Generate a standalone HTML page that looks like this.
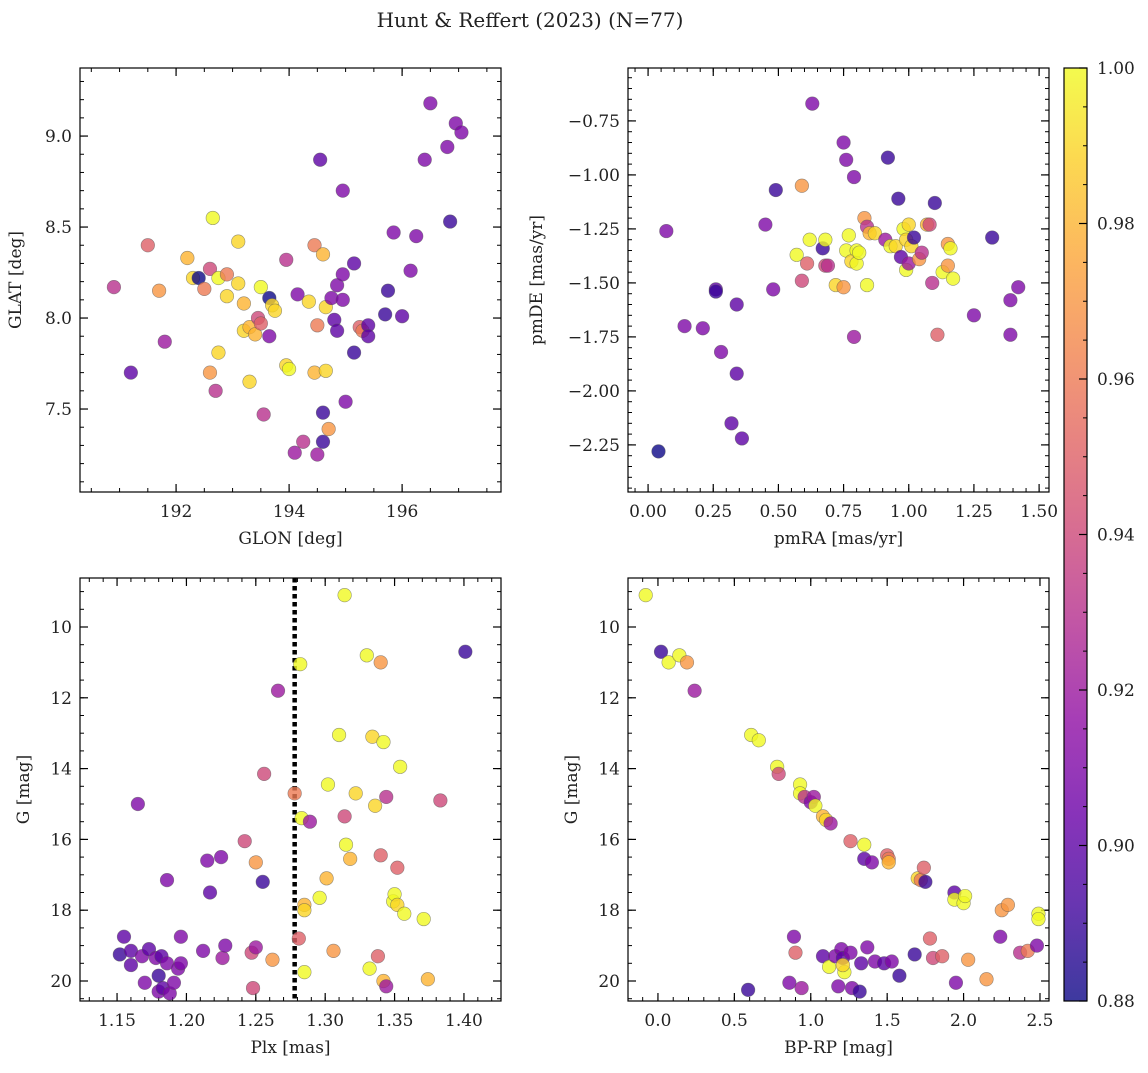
<!DOCTYPE html>
<html><head><meta charset="utf-8">
<style>
html,body{margin:0;padding:0;background:#fff;}
svg text{font-family:"DejaVu Serif","Liberation Serif",serif;fill:#222;}
</style></head>
<body>
<svg id="fig" width="1148" height="1068" xmlns="http://www.w3.org/2000/svg">
<text x="530" y="27" text-anchor="middle" font-size="20">Hunt &amp; Reffert (2023) (N=77)</text>
</svg>
<script>
// ---- data ----
const glon=[190.9,191.2,191.5,191.7,191.8,192.2,192.3,192.4,192.5,192.6,192.6,192.65,192.7,192.75,192.75,192.9,192.9,193.1,193.1,193.2,193.2,193.3,193.3,193.4,193.45,193.5,193.5,193.55,193.65,193.65,193.7,193.75,193.95,193.95,194.0,194.1,194.15,194.25,194.35,194.45,194.45,194.5,194.5,194.55,194.6,194.6,194.6,194.65,194.65,194.7,194.75,194.8,194.85,194.85,194.95,194.95,194.95,195.0,195.15,195.15,195.25,195.3,195.4,195.4,195.7,195.75,195.85,196.0,196.15,196.25,196.4,196.5,196.8,196.85,196.95,197.05];
const glat=[8.17,7.70,8.40,8.15,7.87,8.33,8.22,8.22,8.16,8.27,7.70,8.55,7.60,8.22,7.81,8.24,8.12,8.42,8.19,8.08,7.93,7.95,7.65,7.91,8.00,8.17,7.97,7.47,8.11,7.90,8.07,8.04,8.32,7.74,7.72,7.26,8.13,7.32,8.09,8.40,7.70,7.96,7.25,8.87,8.35,7.48,7.32,8.06,7.71,7.39,8.11,7.99,8.18,7.93,8.70,8.24,8.10,7.54,8.30,7.81,7.95,7.93,7.96,7.90,8.02,8.15,8.47,8.01,8.26,8.45,8.87,9.18,8.94,8.53,9.07,9.02];
const probA=[0.93,0.90,0.95,0.97,0.92,0.98,0.99,0.88,0.96,0.94,0.97,1.0,0.93,1.0,0.99,0.96,0.99,0.99,0.99,0.98,0.99,0.98,0.99,0.98,0.94,1.0,0.95,0.93,0.88,0.91,0.99,0.99,0.93,0.99,1.0,0.92,0.91,0.93,0.99,0.96,0.98,0.96,0.92,0.90,0.98,0.89,0.89,0.99,0.99,0.97,0.91,0.90,0.91,0.90,0.91,0.91,0.91,0.91,0.90,0.89,0.95,0.96,0.90,0.90,0.89,0.89,0.91,0.90,0.91,0.91,0.91,0.91,0.91,0.89,0.91,0.91];
const pmra=[0.04,0.07,0.14,0.21,0.26,0.26,0.28,0.32,0.34,0.34,0.36,0.45,0.48,0.49,0.57,0.59,0.59,0.61,0.62,0.63,0.67,0.68,0.68,0.69,0.72,0.75,0.75,0.76,0.76,0.77,0.78,0.79,0.79,0.80,0.80,0.81,0.83,0.84,0.84,0.85,0.87,0.91,0.92,0.93,0.95,0.96,0.97,0.98,0.99,0.99,1.00,1.00,1.01,1.02,1.04,1.05,1.07,1.08,1.09,1.10,1.11,1.13,1.15,1.15,1.16,1.17,1.25,1.32,1.39,1.39,1.42];
const pmde=[-2.28,-1.26,-1.70,-1.71,-1.53,-1.54,-1.82,-2.15,-1.60,-1.92,-2.22,-1.23,-1.53,-1.07,-1.37,-1.49,-1.05,-1.41,-1.30,-0.67,-1.34,-1.42,-1.30,-1.42,-1.51,-0.85,-1.52,-0.93,-1.35,-1.28,-1.40,-1.01,-1.75,-1.35,-1.41,-1.36,-1.20,-1.51,-1.24,-1.27,-1.27,-1.30,-0.92,-1.33,-1.33,-1.11,-1.38,-1.25,-1.30,-1.44,-1.23,-1.41,-1.33,-1.29,-1.39,-1.36,-1.23,-1.23,-1.50,-1.13,-1.74,-1.45,-1.42,-1.32,-1.34,-1.48,-1.65,-1.29,-1.58,-1.74,-1.52];
const probB=[0.88,0.91,0.91,0.91,0.90,0.89,0.91,0.90,0.90,0.90,0.90,0.91,0.91,0.89,1.0,0.94,0.97,0.95,1.0,0.91,0.89,0.94,1.0,0.93,0.99,0.91,0.97,0.91,1.0,1.0,0.99,0.91,0.92,1.0,1.0,1.0,0.97,1.0,0.93,0.98,0.99,0.92,0.89,1.0,0.99,0.89,0.90,1.0,0.99,1.0,0.99,0.92,0.99,0.89,0.97,0.93,0.98,0.94,0.93,0.89,0.95,1.0,0.97,0.97,1.0,1.0,0.91,0.89,0.91,0.91,0.91];
const plx=[1.152,1.155,1.160,1.160,1.165,1.168,1.170,1.173,1.178,1.182,1.180,1.180,1.183,1.186,1.186,1.188,1.191,1.194,1.196,1.196,1.212,1.215,1.217,1.225,1.226,1.228,1.242,1.247,1.248,1.250,1.250,1.255,1.256,1.262,1.266,1.278,1.281,1.282,1.283,1.285,1.285,1.285,1.289,1.296,1.301,1.302,1.306,1.310,1.314,1.314,1.315,1.318,1.322,1.330,1.332,1.334,1.336,1.338,1.340,1.340,1.342,1.342,1.344,1.344,1.349,1.350,1.352,1.352,1.354,1.357,1.371,1.374,1.383,1.401];
const gmagC=[19.25,18.75,19.15,19.55,15.0,19.30,20.05,19.1,19.35,19.3,19.85,20.3,20.2,17.15,19.5,20.35,20.05,19.65,18.75,19.5,19.15,16.6,17.5,16.5,19.35,19.0,16.05,19.2,20.2,16.65,19.05,17.2,14.15,19.4,11.8,14.7,18.8,11.05,15.4,17.85,18.0,19.75,15.5,17.65,17.1,14.45,19.15,13.05,9.1,15.35,16.15,16.55,14.7,10.8,19.65,13.1,15.05,19.3,11.0,16.45,20.0,13.25,14.8,20.15,17.75,17.55,16.8,17.85,13.95,18.1,18.25,19.95,14.9,10.7];
const probC=[0.89,0.90,0.90,0.90,0.91,0.91,0.91,0.90,0.91,0.90,0.89,0.91,0.90,0.91,0.91,0.91,0.91,0.91,0.91,0.91,0.91,0.91,0.90,0.91,0.92,0.91,0.94,0.94,0.94,0.97,0.92,0.89,0.94,0.97,0.92,0.96,0.95,1.0,1.0,0.98,0.99,1.0,0.92,1.0,0.98,1.0,0.97,1.0,1.0,0.94,1.0,0.98,0.99,1.0,1.0,0.99,0.99,0.95,0.97,0.95,0.98,1.0,0.93,0.92,1.0,1.0,0.95,0.99,1.0,1.0,1.0,0.98,0.94,0.89];
const bprp=[-0.08,0.02,0.07,0.14,0.19,0.24,0.61,0.66,0.78,0.79,0.93,0.93,0.96,1.00,1.02,1.03,1.08,1.10,1.13,1.26,1.35,1.35,1.40,1.50,1.51,1.51,1.70,1.72,1.74,1.75,1.94,1.94,2.00,2.01,2.25,2.29,2.49,2.49,0.89,0.90,0.86,0.94,0.59,1.08,1.12,1.16,1.18,1.20,1.21,1.22,1.21,1.26,1.27,1.32,1.33,1.37,1.42,1.48,1.53,1.58,1.68,1.78,1.80,1.86,1.95,2.03,2.15,2.24,2.37,2.42,2.48];
const gmagD=[9.1,10.7,11.0,10.8,11.0,11.8,13.05,13.2,13.95,14.15,14.45,14.7,14.8,14.95,14.8,15.05,15.35,15.45,15.55,16.05,16.15,16.55,16.65,16.45,16.55,16.65,17.1,17.15,16.8,17.2,17.5,17.7,17.8,17.6,18.0,17.85,18.1,18.25,18.75,19.2,20.05,20.2,20.25,19.3,19.6,19.3,20.15,19.1,19.35,19.75,19.55,19.2,20.2,20.3,19.5,19.05,19.45,19.5,19.45,19.85,19.25,18.8,19.35,19.3,20.05,19.4,19.95,18.75,19.2,19.15,19.0];
const probD=[1.0,0.89,1.0,1.0,0.97,0.92,1.0,1.0,1.0,0.94,1.0,1.0,0.93,0.91,0.92,1.0,0.98,0.99,0.92,0.95,1.0,0.90,0.91,0.95,0.96,0.98,0.99,0.96,0.95,0.89,0.90,1.0,1.0,1.0,0.97,0.97,1.0,1.0,0.91,0.95,0.91,0.92,0.89,0.90,1.0,0.91,0.91,0.91,0.90,1.0,0.99,0.91,0.91,0.89,0.90,0.91,0.91,0.90,0.91,0.89,0.89,0.95,0.94,0.95,0.91,0.97,0.97,0.91,0.93,0.96,0.91];
const cbTicks=[0.88,0.90,0.92,0.94,0.96,0.98,1.00];
const plxCut=1.278;

const NS="http://www.w3.org/2000/svg";
const svg=document.getElementById('fig');
function el(tag,attrs,parent){const e=document.createElementNS(NS,tag);for(const k in attrs)e.setAttribute(k,attrs[k]);(parent||svg).appendChild(e);return e;}
const stops=[[13,8,135],[65,4,157],[106,0,168],[143,13,164],[177,42,144],[204,71,120],[225,100,98],[242,132,75],[252,166,54],[252,206,37],[240,249,33]];
function plasma(t){t=Math.max(0,Math.min(1,t))*10;const i=Math.min(9,Math.floor(t)),f=t-i,a=stops[i],b=stops[i+1];return `rgb(${a.map((v,k)=>Math.round(v+(b[k]-v)*f)).join(',')})`;}
function pc(p){return plasma((p-0.88)/0.12);}
function fmt(v,d){const s=v.toFixed(d);return s.replace('-','\u2212');}
const FS=17;

function panel(cfg){
  const {x0,x1,y0,y1,xmin,xmax,ymin,ymax,inv,name}=cfg;
  const sx=v=>x0+(v-xmin)/(xmax-xmin)*(x1-x0);
  const sy=inv? v=>y0+(v-ymin)/(ymax-ymin)*(y1-y0) : v=>y1-(v-ymin)/(ymax-ymin)*(y1-y0);
  const g=el('g',{});
  
  
  const eps=1e-9;
  const mk=(min,max,step)=>{const a=[];for(let v=Math.ceil(min/step-eps)*step;v<=max+eps;v+=step)a.push(+v.toFixed(6));return a;};
  mk(xmin,xmax,cfg.xminor).forEach(v=>{const X=sx(v);el('line',{x1:X,x2:X,y1:y1,y2:y1-4,stroke:'#000','stroke-width':1},g);el('line',{x1:X,x2:X,y1:y0,y2:y0+4,stroke:'#000','stroke-width':1},g);});
  mk(ymin,ymax,cfg.yminor).forEach(v=>{const Y=sy(v);el('line',{x1:x0,x2:x0+4,y1:Y,y2:Y,stroke:'#000','stroke-width':1},g);el('line',{x1:x1,x2:x1-4,y1:Y,y2:Y,stroke:'#000','stroke-width':1},g);});
  mk(xmin,xmax,cfg.xmajor).forEach(v=>{const X=sx(v);el('line',{x1:X,x2:X,y1:y1,y2:y1-8,stroke:'#000','stroke-width':1.2},g);el('line',{x1:X,x2:X,y1:y0,y2:y0+8,stroke:'#000','stroke-width':1.2},g);
    const t=el('text',{x:X,y:y1+25,'text-anchor':'middle','font-size':FS},g);t.textContent=fmt(v,cfg.xd);
    
    });
  mk(ymin,ymax,cfg.ymajor).forEach(v=>{const Y=sy(v);el('line',{x1:x0,x2:x0+8,y1:Y,y2:Y,stroke:'#000','stroke-width':1.2},g);el('line',{x1:x1,x2:x1-8,y1:Y,y2:Y,stroke:'#000','stroke-width':1.2},g);
    const t=el('text',{x:x0-8,y:Y+6,'text-anchor':'end','font-size':FS},g);t.textContent=fmt(v,cfg.yd);
    
    });
  if(cfg.vline!==undefined){const X=sx(cfg.vline);const l=el('line',{x1:X,x2:X,y1:y0,y2:y1,stroke:'#000','stroke-width':4.5,'stroke-dasharray':'4.5,3.5'},g);
    
    }
  cfg.xs.forEach((v,i)=>{const c=el('circle',{cx:sx(v),cy:sy(cfg.ys[i]),r:6.8,fill:pc(cfg.ps[i]),'fill-opacity':0.8,stroke:'#555','stroke-opacity':0.6,'stroke-width':0.6},g);
    
    });
  el('rect',{x:x0,y:y0,width:x1-x0,height:y1-y0,fill:'none',stroke:'#000','stroke-width':1.2},g);
  const xl=el('text',{x:(x0+x1)/2,y:y1+52,'text-anchor':'middle','font-size':FS},g);xl.textContent=cfg.xlab;
  
  
  const yx=x0-cfg.ylOff,ym=(y0+y1)/2;
  const yl=el('text',{x:yx,y:ym,'text-anchor':'middle','font-size':FS,transform:`rotate(-90 ${yx} ${ym})`},g);yl.textContent=cfg.ylab;
  
  
}
panel({name:'glon-glat-panel',x0:80,x1:501,y0:68,y1:492,xmin:190.30,xmax:197.75,ymin:7.044,ymax:9.374,xmajor:2,xminor:0.5,ymajor:0.5,yminor:0.1,xd:0,yd:1,xs:glon,ys:glat,ps:probA,xlab:'GLON [deg]',ylab:'GLAT [deg]',ylOff:59});
panel({name:'proper-motion-panel',x0:628,x1:1049,y0:68,y1:492,xmin:-0.077,xmax:1.538,ymin:-2.468,ymax:-0.505,xmajor:0.25,xminor:0.05,ymajor:0.25,yminor:0.05,xd:2,yd:2,xs:pmra,ys:pmde,ps:probB,xlab:'pmRA [mas/yr]',ylab:'pmDE [mas/yr]',ylOff:86});
panel({name:'plx-g-panel',x0:80,x1:501,y0:578,y1:1001,xmin:1.1233,xmax:1.4267,ymin:8.616,ymax:20.565,inv:true,xmajor:0.05,xminor:0.01,ymajor:2,yminor:0.5,xd:2,yd:0,xs:plx,ys:gmagC,ps:probC,xlab:'Plx [mas]',ylab:'G [mag]',ylOff:51,vline:plxCut});
panel({name:'cmd-panel',x0:628,x1:1049,y0:578,y1:1001,xmin:-0.196,xmax:2.559,ymin:8.616,ymax:20.565,inv:true,xmajor:0.5,xminor:0.1,ymajor:2,yminor:0.5,xd:1,yd:0,xs:bprp,ys:gmagD,ps:probD,xlab:'BP-RP [mag]',ylab:'G [mag]',ylOff:51});

// colorbar
const cb=el('g',{});


const cx0=1064,cx1=1087,cy0=68,cy1=1001;
const defs=el('defs',{},cb);const lg=el('linearGradient',{id:'cbg',x1:0,y1:1,x2:0,y2:0},defs);
for(let i=0;i<=20;i++)el('stop',{offset:i/20,'stop-color':plasma(i/20)},lg);
el('rect',{x:cx0,y:cy0,width:cx1-cx0,height:cy1-cy0,fill:'url(#cbg)','fill-opacity':0.8},cb);
const cy=v=>cy1-(v-0.88)/0.12*(cy1-cy0);
for(let v=0.88;v<=1.0001;v+=0.005){const Y=cy(v);el('line',{x1:cx1,x2:cx1-4,y1:Y,y2:Y,stroke:'#000','stroke-width':1},cb);}
cbTicks.forEach(v=>{const Y=cy(v);el('line',{x1:cx1,x2:cx1-8,y1:Y,y2:Y,stroke:'#000','stroke-width':1.2},cb);
  const t=el('text',{x:cx1+10,y:Y+6,'font-size':FS},cb);t.textContent=v.toFixed(2);
  
  });
el('rect',{x:cx0,y:cy0,width:cx1-cx0,height:cy1-cy0,fill:'none',stroke:'#000','stroke-width':1.2},cb);
</script>
</body></html>
